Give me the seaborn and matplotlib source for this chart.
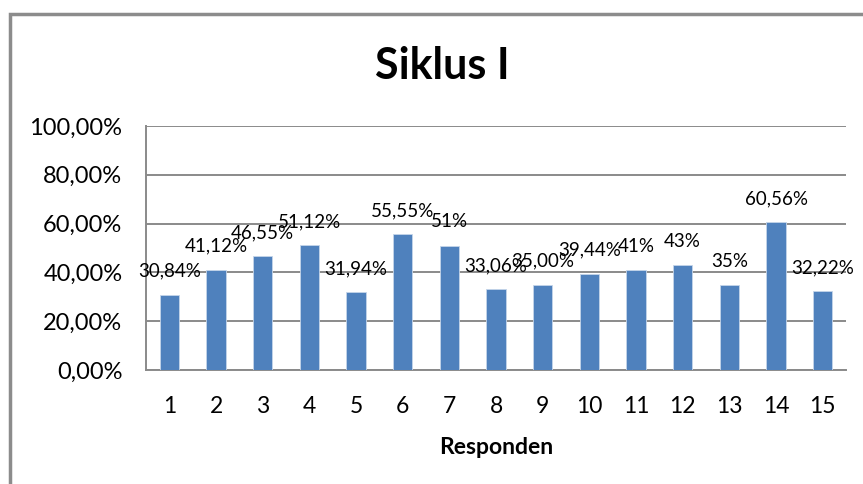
import matplotlib
matplotlib.use("Agg")
import matplotlib.pyplot as plt
import pandas as pd
import seaborn as sns
from matplotlib.patches import Rectangle

# data
responden = [str(i) for i in range(1, 16)]
nilai = [30.84, 41.12, 46.55, 51.12, 31.94, 55.55, 51.00, 33.06, 35.00, 39.44, 41.00, 43.00, 35.00, 60.56, 32.22]
label_teks = ["30,84%", "41,12%", "46,55%", "51,12%", "31,94%", "55,55%", "51%", "33,06%",
              "35,00%", "39,44%", "41%", "43%", "35%", "60,56%", "32,22%"]
y_ticks = [0, 20, 40, 60, 80, 100]

sns.set_theme(style="white")
plt.rcParams['font.family'] = ['Lato', 'DejaVu Sans']
plt.rcParams['text.color'] = 'black'
plt.rcParams['xtick.color'] = 'black'
plt.rcParams['ytick.color'] = 'black'
plt.rcParams['axes.labelcolor'] = 'black'

df = pd.DataFrame({"Responden": responden, "Nilai": [v / 100 for v in nilai]})

fig = plt.figure(figsize=(8.63, 4.84), dpi=100)
fig.patch.set_facecolor("white")
# chart frame
fig.add_artist(Rectangle((0.012, -0.05), 1.1, 0.021 + 1.0, transform=fig.transFigure,
                         fill=False, edgecolor="#8c8c8c", linewidth=2.5))

ax = fig.add_axes([0.1692, 0.2355, 0.8111, 0.5041])
sns.barplot(data=df, x="Responden", y="Nilai", color="#4F81BD", width=0.41,
            saturation=1, edgecolor="#c5d5ea", linewidth=0.6, ax=ax, zorder=3)

ax.set_ylim(0, 1.0)
ax.set_xlim(-0.5, 14.5)
ax.set_yticks([t / 100 for t in y_ticks])
ax.set_yticklabels([f"{t:.2f}%".replace(".", ",") for t in y_ticks])
ax.yaxis.grid(True, color="#8a8a8a", linewidth=1.4, zorder=0)
ax.tick_params(axis="y", length=6, width=1.4, color="#8a8a8a", pad=11, labelsize=17)
ax.tick_params(axis="x", length=0, pad=19, labelsize=16.5)
for s in ["top", "right"]:
    ax.spines[s].set_visible(False)
for s in ["left", "bottom"]:
    ax.spines[s].set_color("#8a8a8a")
    ax.spines[s].set_linewidth(1.4)

for i, (v, t) in enumerate(zip(df["Nilai"], label_teks)):
    ax.annotate(t, (i, v), xytext=(0, 17), textcoords="offset points",
                ha="center", va="center", fontsize=13.5, color="black")

ax.set_ylabel("")
ax.set_xlabel("Responden", fontsize=16.5, fontweight="bold", labelpad=14)
fig.text(0.513, 0.864, "Siklus I", ha="center", va="center", fontsize=31, fontweight="bold")

fig.savefig("out.png", dpi=100, facecolor="white")
